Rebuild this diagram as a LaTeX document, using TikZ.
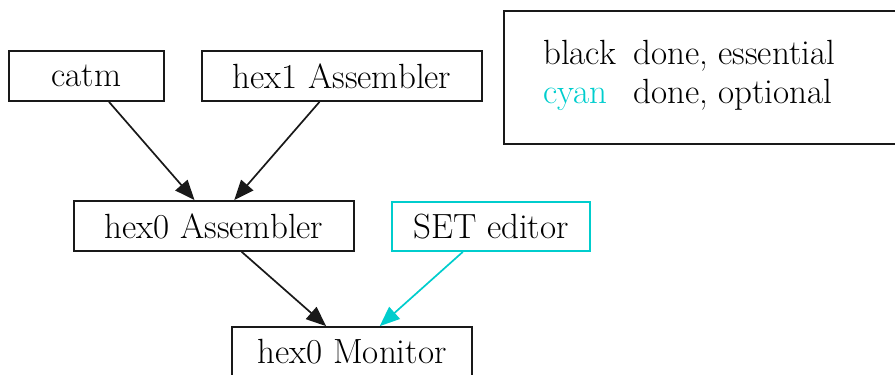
\documentclass[tikz,border=0pt]{standalone}
\usetikzlibrary{arrows.meta}
\definecolor{gvcyan}{RGB}{0,205,205}
\definecolor{gvgray}{RGB}{25,25,25}
\begin{document}
\begin{tikzpicture}[x=1pt,y=-1pt,
  box/.style={draw=gvgray,line width=1.7pt,inner sep=0pt,font=\fontsize{35}{42}\selectfont,text=black},
  edge/.style={line width=1.7pt,draw=gvgray,-{Triangle[length=20pt,width=16pt]}},
  lbl/.style={anchor=base west,inner sep=0pt,font=\fontsize{35}{42}\selectfont}]
\useasboundingbox (0,0) rectangle (895,375);
\node[box,minimum width=155pt,minimum height=50pt] (catm) at (86.5,76) {catm};
\node[box,minimum width=280pt,minimum height=50pt] (hexA) at (342,76) {hex1 Assembler};
\node[box,minimum width=280pt,minimum height=50pt] (hexZ) at (214,226) {hex0 Assembler};
\node[box,draw=gvcyan,minimum width=198pt,minimum height=49pt] (set) at (491,226.5) {SET editor};
\node[box,minimum width=240pt,minimum height=50pt] (mon) at (352,352) {hex0 Monitor};
\draw[edge] (catm.-49.3) -- (hexZ.127.2);
\draw[edge] (hexA.-131.3) -- (hexZ.52.8);
\draw[edge] (hexZ.-43.9) -- (mon.135);
\draw[edge,draw=gvcyan,fill=gvcyan] (set.-138.8) -- (mon.43.9);
\node[draw=gvgray,line width=1.7pt,minimum width=410pt,minimum height=133pt,inner sep=0pt,anchor=north west] (legend) at (503,10) {};
\node[lbl] (l1a) at (543,64) {black};
\node[lbl] (l1b) at (633,64) {done, essential};
\node[lbl,text=gvcyan] (l2a) at (543,103) {cyan};
\node[lbl] (l2b) at (633,103) {done, optional};
\end{tikzpicture}
\end{document}
